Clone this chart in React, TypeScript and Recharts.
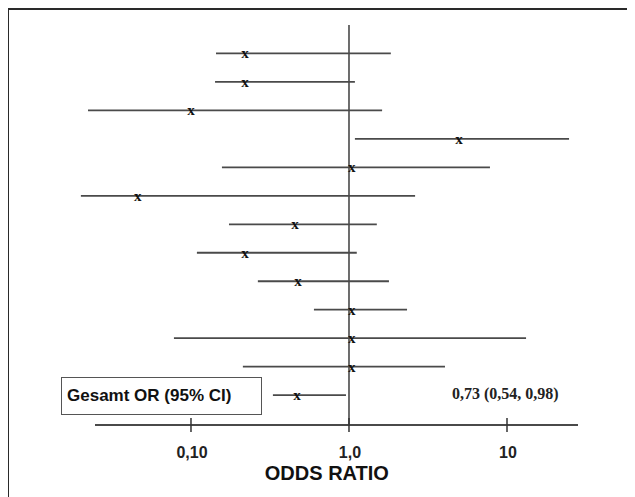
import React from "react";
import {
  ScatterChart,
  Scatter,
  XAxis,
  YAxis,
  ErrorBar,
  ReferenceLine,
} from "recharts";

// odds ratio per study (last row = pooled estimate)
const studyRows = [1, 2, 3, 4, 5, 6, 7, 8, 9, 10, 11, 12, 13];
const oddsRatio = [0.22, 0.22, 0.1, 4.97, 1.04, 0.046, 0.455, 0.22, 0.476, 1.04, 1.04, 1.04, 0.469];
const ciLower = [0.144, 0.142, 0.0223, 1.09, 0.157, 0.0201, 0.174, 0.109, 0.265, 0.6, 0.078, 0.213, 0.33];
const ciUpper = [1.84, 1.09, 1.62, 24.7, 7.8, 2.62, 1.5, 1.12, 1.79, 2.33, 13.2, 4.05, 0.957];

const xTicks = [0.1, 1, 10];
const xTickLabels = ["0,10", "1,0", "10"];

const pooledLabel = "Gesamt OR (95% CI)";
const pooledText = "0,73 (0,54, 0,98)";

const data = studyRows.map((row, i) => ({
  row,
  or: oddsRatio[i],
  ci: [oddsRatio[i] - ciLower[i], ciUpper[i] - oddsRatio[i]],
}));

const LINE = "#4a4a4a";

const XMark = (props: any) => {
  const { cx, cy } = props;
  return (
    <text
      x={cx}
      y={cy + 5}
      textAnchor="middle"
      fontFamily="'Liberation Serif', serif"
      fontWeight="bold"
      fontSize={15}
      fill="#111"
    >
      x
    </text>
  );
};

const AxisTick = (props: any) => {
  const { x, y, payload } = props;
  const idx = xTicks.indexOf(payload.value);
  return (
    <g>
      <line x1={x} x2={x} y1={y - 7} y2={y + 7} stroke="#333" strokeWidth={1.5} />
      <text
        x={x + 1}
        y={y + 29}
        dominantBaseline="middle"
        textAnchor="middle"
        fontFamily="'Liberation Sans', Arial, sans-serif"
        fontWeight="bold"
        fontSize={16}
        fill="#222"
      >
        {idx >= 0 ? xTickLabels[idx] : payload.value}
      </text>
    </g>
  );
};

const AxisTitle = (props: any) => {
  const vb = props.viewBox || { x: 0, y: 0, width: 0 };
  return (
    <text
      x={vb.x + vb.width * 0.48}
      y={vb.y + 50}
      dominantBaseline="middle"
      textAnchor="middle"
      fontFamily="'Liberation Sans', Arial, sans-serif"
      fontWeight="bold"
      fontSize={20}
      fill="#111"
    >
      ODDS RATIO
    </text>
  );
};

export default function App() {
  return (
    <div style={{ position: "relative", width: 627, height: 489 }}>
      <div
        style={{
          position: "absolute",
          left: -1,
          top: 0,
          width: 628,
          height: 489,
          borderTop: "2px solid #2a2a2a",
          borderLeft: "2px solid #2a2a2a",
          boxSizing: "border-box",
        }}
      />
      <ScatterChart
        width={627}
        height={489}
        margin={{ top: 17, right: 57, left: 87, bottom: 32 }}
        style={{ position: "absolute", left: 0, top: 0 }}
      >
        <XAxis
          type="number"
          dataKey="or"
          scale="log"
          domain={[0.02469, 28.14]}
          allowDataOverflow
          ticks={xTicks}
          height={40}
          stroke={LINE}
          strokeWidth={2}
          tickLine={false}
          tickSize={0}
          tickMargin={0}
          tick={<AxisTick />}
          label={{ content: <AxisTitle /> }}
        />
        <YAxis type="number" dataKey="row" domain={[0, 14.05]} reversed hide />
        <ReferenceLine x={1} stroke={LINE} strokeWidth={1.6} />
        <Scatter data={data} shape={<XMark />} isAnimationActive={false}>
          <ErrorBar
            dataKey="ci"
            direction="x"
            width={0}
            stroke={LINE}
            strokeWidth={1.8}
            isAnimationActive={false}
          />
        </Scatter>
      </ScatterChart>
      <div
        style={{
          position: "absolute",
          left: 53,
          top: 369,
          width: 201,
          height: 38,
          border: "1.5px solid #555",
          boxSizing: "border-box",
          fontFamily: "'Liberation Sans', Arial, sans-serif",
          fontWeight: "bold",
          fontSize: 17,
          lineHeight: "35px",
          paddingLeft: 5,
          color: "#111",
          background: "#fff",
        }}
      >
        {pooledLabel}
      </div>
      <div
        style={{
          position: "absolute",
          left: 444,
          top: 376,
          height: 20,
          lineHeight: "20px",
          fontFamily: "'Liberation Serif', serif",
          fontWeight: "bold",
          fontSize: 16,
          color: "#222",
          whiteSpace: "nowrap",
        }}
      >
        {pooledText}
      </div>
    </div>
  );
}
